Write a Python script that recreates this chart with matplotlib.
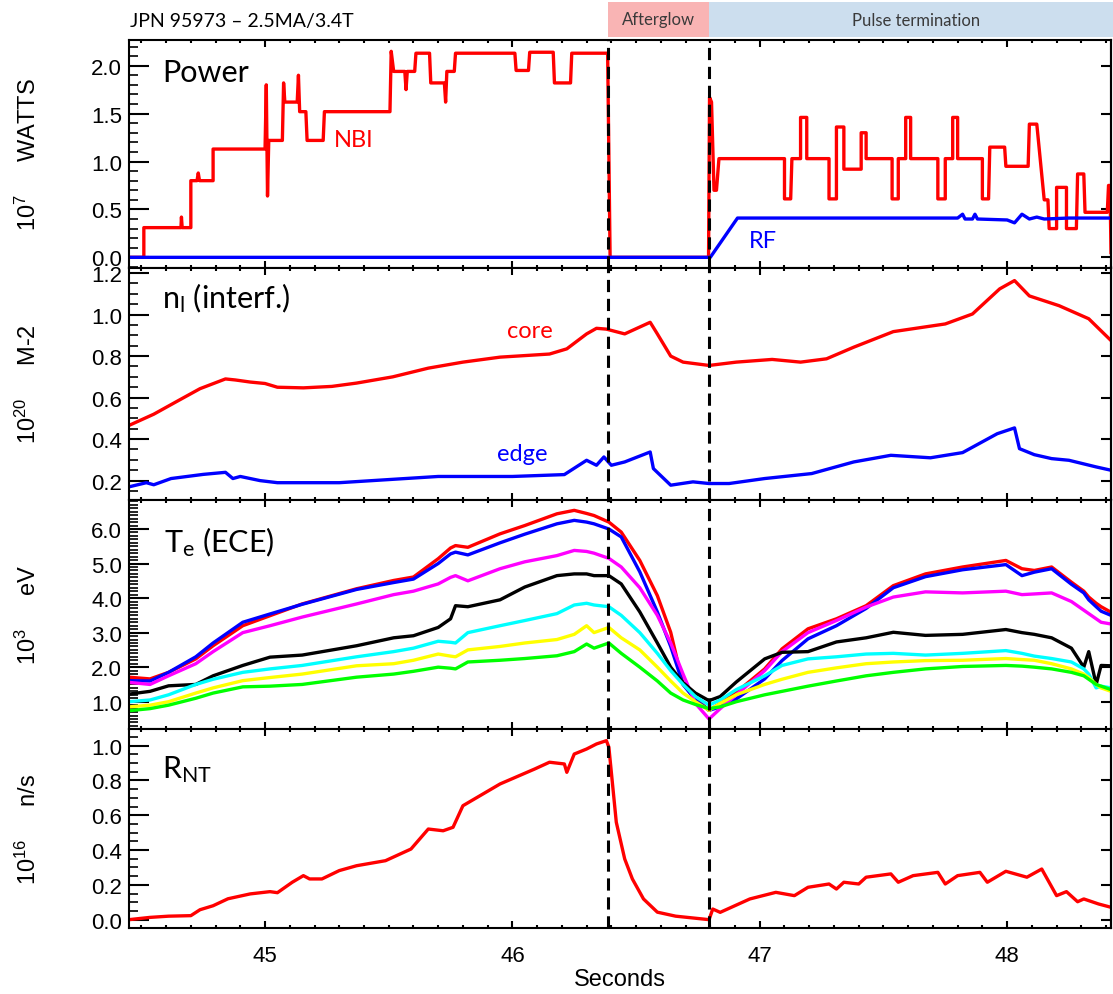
import matplotlib
matplotlib.use("Agg")
import matplotlib.pyplot as plt
import matplotlib.ticker as ticker
import matplotlib.transforms as transforms
from matplotlib.patches import Rectangle

plt.rcParams["font.family"] = ["Liberation Sans", "DejaVu Sans"]

# shot phases (s)
t_afterglow = 46.385
t_termination = 46.793
t_range = (44.45, 48.42)

# ---- heating power, 1e7 W ----
nbi_t = [44.45, 44.51, 44.51, 44.66, 44.662, 44.665, 44.70, 44.70, 44.725, 44.73, 44.735,
         44.79, 44.79, 45.00, 45.005, 45.01, 45.015, 45.07, 45.075, 45.08, 45.13, 45.135,
         45.14, 45.165, 45.17, 45.235, 45.24, 45.505, 45.51, 45.52, 45.565, 45.57, 45.575,
         45.605, 45.61, 45.665, 45.67, 45.725, 45.73, 45.735, 45.765, 45.77, 46.01, 46.015,
         46.065, 46.07, 46.165, 46.17, 46.235, 46.24, 46.385, 46.395, 46.793, 46.797,
         46.805, 46.815, 46.825, 46.835, 47.10, 47.10, 47.125, 47.13, 47.165, 47.165,
         47.19, 47.19, 47.28, 47.28, 47.31, 47.31, 47.34, 47.34, 47.41, 47.41, 47.43,
         47.43, 47.535, 47.535, 47.56, 47.56, 47.59, 47.59, 47.61, 47.61, 47.72, 47.72,
         47.75, 47.75, 47.78, 47.78, 47.80, 47.80, 47.90, 47.90, 47.925, 47.93, 47.99,
         47.995, 48.085, 48.09, 48.12, 48.15, 48.165, 48.17, 48.20, 48.20, 48.24, 48.24,
         48.28, 48.285, 48.31, 48.315, 48.405, 48.41, 48.416, 48.42]
nbi_p = [0.0, 0.0, 0.31, 0.31, 0.42, 0.31, 0.31, 0.80, 0.80, 0.88, 0.80,
         0.80, 1.13, 1.13, 1.80, 0.64, 1.22, 1.22, 1.82, 1.62, 1.62, 1.90,
         1.52, 1.52, 1.22, 1.22, 1.52, 1.52, 2.15, 1.94, 1.94, 1.75, 1.94,
         1.94, 2.13, 2.13, 1.82, 1.82, 1.62, 1.94, 1.94, 2.13, 2.13, 1.95,
         1.95, 2.14, 2.14, 1.82, 1.82, 2.13, 2.13, 0.0, 0.0, 1.67,
         1.62, 0.70, 0.70, 1.03, 1.03, 0.61, 0.61, 1.03, 1.03, 1.46,
         1.46, 1.03, 1.03, 0.61, 0.61, 1.36, 1.36, 0.92, 0.92, 1.30, 1.30,
         1.03, 1.03, 0.61, 0.61, 1.03, 1.03, 1.46, 1.46, 1.03, 1.03, 0.61,
         0.61, 1.03, 1.03, 1.46, 1.46, 1.03, 1.03, 0.61, 0.61, 1.15, 1.15,
         0.95, 0.95, 1.39, 1.39, 0.60, 0.60, 0.30, 0.30, 0.73, 0.73, 0.30,
         0.30, 0.87, 0.87, 0.47, 0.47, 0.75, 0.75, 0.05]
rf_t = [44.45, 46.80, 46.91, 47.80, 47.82, 47.83, 47.86, 47.87, 47.88, 48.00, 48.03,
        48.06, 48.09, 48.12, 48.15, 48.25, 48.42]
rf_p = [0.0, 0.0, 0.41, 0.41, 0.45, 0.40, 0.40, 0.45, 0.40, 0.39, 0.36,
        0.45, 0.40, 0.42, 0.40, 0.41, 0.41]

# ---- line integrated density, 1e20 m^-2 ----
core_t = [44.45, 44.55, 44.65, 44.737, 44.84, 44.88, 44.94, 45.0, 45.05, 45.155, 45.27,
          45.37, 45.516, 45.66, 45.80, 45.95, 46.15, 46.22, 46.30, 46.34, 46.38, 46.454,
          46.557, 46.586, 46.64, 46.69, 46.795, 46.905, 47.05, 47.165, 47.27, 47.38,
          47.54, 47.75, 47.86, 47.97, 48.03, 48.09, 48.21, 48.33, 48.42]
core_n = [0.466, 0.52, 0.586, 0.643, 0.69, 0.685, 0.675, 0.668, 0.65, 0.647, 0.654,
          0.67, 0.70, 0.742, 0.771, 0.795, 0.81, 0.835, 0.907, 0.934, 0.93, 0.907,
          0.963, 0.907, 0.80, 0.771, 0.755, 0.771, 0.784, 0.771, 0.787, 0.843,
          0.918, 0.955, 1.003, 1.124, 1.164, 1.09, 1.043, 0.98, 0.875]
edge_t = [44.45, 44.52, 44.55, 44.62, 44.75, 44.84, 44.87, 44.90, 44.98, 45.05, 45.3,
          45.5, 45.7, 46.0, 46.21, 46.30, 46.34, 46.37, 46.40, 46.454, 46.557, 46.57,
          46.64, 46.73, 46.795, 46.876, 47.02, 47.21, 47.38, 47.53, 47.69, 47.82,
          47.96, 48.03, 48.05, 48.11, 48.18, 48.25, 48.36, 48.42]
edge_n = [0.17, 0.19, 0.18, 0.21, 0.23, 0.24, 0.21, 0.22, 0.20, 0.19, 0.19,
          0.205, 0.22, 0.22, 0.229, 0.298, 0.274, 0.314, 0.274, 0.29, 0.338, 0.258,
          0.178, 0.194, 0.186, 0.186, 0.21, 0.234, 0.29, 0.322, 0.31, 0.335,
          0.426, 0.454, 0.354, 0.325, 0.306, 0.298, 0.266, 0.25]

# ---- ECE electron temperature channels, keV ----
te_t = [44.45, 44.535, 44.61, 44.72, 44.79, 44.91, 45.02, 45.15, 45.37, 45.52, 45.60,
        45.70, 45.75, 45.77, 45.82, 45.95, 46.05, 46.18, 46.25, 46.30, 46.33, 46.39,
        46.44, 46.515, 46.586, 46.64, 46.69, 46.74, 46.795, 46.84, 46.905, 47.02, 47.09,
        47.195, 47.31, 47.43, 47.54, 47.67, 47.82, 47.995, 48.06, 48.11, 48.18, 48.26,
        48.31, 48.33, 48.36, 48.38, 48.42]
te_red = [1.71, 1.66, 1.85, 2.24, 2.62, 3.20, 3.49, 3.83, 4.27, 4.51, 4.61,
          5.14, 5.45, 5.52, 5.47, 5.86, 6.10, 6.44, 6.54, 6.45, 6.39, 6.20,
          5.91, 5.09, 4.07, 3.01, 1.50, 1.10, 0.75, 0.95, 1.27, 1.95, 2.53,
          3.11, 3.40, 3.78, 4.36, 4.70, 4.90, 5.09, 4.85, 4.80, 4.90, 4.46,
          4.20, 4.03, 3.85, 3.75, 3.59]
te_blue = [1.61, 1.60, 1.85, 2.30, 2.70, 3.30, 3.54, 3.82, 4.25, 4.45, 4.55,
           5.00, 5.28, 5.33, 5.25, 5.60, 5.85, 6.15, 6.25, 6.20, 6.15, 6.00,
           5.77, 4.76, 3.60, 2.60, 1.50, 1.05, 0.75, 0.85, 1.08, 1.66, 2.19,
           2.82, 3.20, 3.70, 4.30, 4.62, 4.82, 4.97, 4.65, 4.75, 4.85, 4.40,
           4.15, 3.95, 3.75, 3.62, 3.50]
te_magenta = [1.56, 1.50, 1.75, 2.10, 2.45, 3.00, 3.20, 3.45, 3.83, 4.10, 4.20,
              4.41, 4.60, 4.65, 4.50, 4.85, 5.05, 5.23, 5.38, 5.35, 5.30, 5.15,
              4.90, 4.30, 3.50, 2.70, 1.80, 0.95, 0.50, 0.80, 1.20, 1.90, 2.45,
              3.00, 3.35, 3.74, 4.03, 4.18, 4.15, 4.20, 4.10, 4.12, 4.15, 3.90,
              3.65, 3.55, 3.40, 3.30, 3.25]
te_black = [1.22, 1.30, 1.46, 1.50, 1.75, 2.05, 2.29, 2.35, 2.62, 2.85, 2.91,
            3.15, 3.40, 3.78, 3.75, 3.95, 4.32, 4.65, 4.70, 4.70, 4.65, 4.65,
            4.41, 3.60, 2.70, 2.00, 1.55, 1.25, 1.03, 1.15, 1.57, 2.24, 2.43,
            2.45, 2.73, 2.85, 3.01, 2.92, 2.95, 3.09, 3.00, 2.95, 2.85, 2.55,
            2.00, 2.45, 1.50, 2.05, 2.04]
te_cyan = [1.00, 1.05, 1.20, 1.50, 1.65, 1.85, 1.95, 2.05, 2.30, 2.45, 2.55,
           2.75, 2.72, 2.70, 3.00, 3.20, 3.35, 3.55, 3.80, 3.85, 3.80, 3.75,
           3.50, 3.00, 2.40, 1.90, 1.50, 1.15, 0.90, 1.05, 1.35, 1.75, 2.05,
           2.24, 2.30, 2.38, 2.40, 2.35, 2.40, 2.48, 2.40, 2.32, 2.25, 2.15,
           1.95, 1.80, 1.40, 1.45, 1.40]
te_yellow = [0.85, 0.90, 1.00, 1.25, 1.40, 1.61, 1.70, 1.80, 2.04, 2.10, 2.20,
             2.38, 2.32, 2.30, 2.50, 2.60, 2.70, 2.80, 2.95, 3.20, 3.00, 3.15,
             2.85, 2.50, 2.00, 1.60, 1.25, 1.00, 0.75, 0.95, 1.20, 1.50, 1.65,
             1.85, 1.98, 2.10, 2.15, 2.19, 2.20, 2.25, 2.22, 2.20, 2.10, 1.95,
             1.80, 1.70, 1.50, 1.40, 1.30]
te_green = [0.74, 0.80, 0.90, 1.10, 1.25, 1.43, 1.45, 1.50, 1.71, 1.80, 1.88,
            2.00, 1.97, 1.95, 2.15, 2.20, 2.25, 2.33, 2.45, 2.67, 2.55, 2.70,
            2.40, 2.00, 1.60, 1.25, 1.05, 0.92, 0.80, 0.85, 1.00, 1.20, 1.30,
            1.45, 1.60, 1.75, 1.85, 1.95, 2.02, 2.05, 2.03, 2.00, 1.95, 1.85,
            1.75, 1.65, 1.50, 1.45, 1.35]
te_channels = [te_red, te_blue, te_magenta, te_black, te_cyan, te_yellow, te_green]
te_colors = ["red", "blue", "magenta", "black", "cyan", "yellow", "lime"]

# ---- neutron rate, 1e16 n/s ----
rnt_t = [44.45, 44.535, 44.61, 44.70, 44.737, 44.79, 44.85, 44.94, 45.02, 45.05, 45.11,
         45.155, 45.18, 45.23, 45.30, 45.37, 45.487, 45.59, 45.66, 45.72, 45.76, 45.80,
         45.95, 46.09, 46.15, 46.21, 46.22, 46.25, 46.30, 46.34, 46.38, 46.39, 46.42,
         46.454, 46.485, 46.53, 46.586, 46.66, 46.795, 46.81, 46.84, 46.96, 47.065,
         47.14, 47.195, 47.28, 47.31, 47.34, 47.40, 47.43, 47.53, 47.56, 47.62, 47.72,
         47.75, 47.80, 47.89, 47.92, 47.995, 48.08, 48.14, 48.20, 48.24, 48.285, 48.31,
         48.37, 48.42]
rnt_r = [0.0, 0.013, 0.02, 0.023, 0.057, 0.08, 0.12, 0.148, 0.161, 0.155, 0.215,
         0.253, 0.234, 0.234, 0.282, 0.31, 0.339, 0.406, 0.521, 0.511, 0.531, 0.655,
         0.78, 0.866, 0.905, 0.895, 0.847, 0.952, 0.981, 1.01, 1.029, 0.991, 0.56,
         0.349, 0.234, 0.119, 0.043, 0.02, 0.0, 0.061, 0.042, 0.119, 0.157,
         0.138, 0.186, 0.205, 0.176, 0.215, 0.205, 0.244, 0.263, 0.215, 0.253, 0.272,
         0.205, 0.253, 0.272, 0.215, 0.278, 0.244, 0.291, 0.138, 0.161, 0.103, 0.119,
         0.09, 0.071]

W, H = 1113, 995
fig = plt.figure(figsize=(W / 100, H / 100), dpi=100)


def px_axes(top, bottom):
    return fig.add_axes([129 / W, 1 - bottom / H, 982 / W, (bottom - top) / H])


def style(ax, ylim, major, minor):
    ax.set_xlim(*t_range)
    ax.set_ylim(*ylim)
    ax.xaxis.set_major_locator(ticker.MultipleLocator(1))
    ax.xaxis.set_minor_locator(ticker.MultipleLocator(0.1))
    ax.yaxis.set_major_locator(ticker.MultipleLocator(major))
    ax.yaxis.set_minor_locator(ticker.MultipleLocator(minor))
    ax.yaxis.set_major_formatter(ticker.FormatStrFormatter("%.1f"))
    ax.tick_params(axis="x", which="both", direction="in", top=True, bottom=True,
                   labelbottom=False, width=1.5)
    ax.tick_params(axis="x", which="major", length=5, labelsize=16, pad=12)
    ax.tick_params(axis="x", which="minor", length=2.5)
    ax.tick_params(axis="y", which="both", direction="in", left=True, right=False, width=1.5)
    ax.tick_params(axis="y", which="major", length=14.4, labelsize=16, pad=5)
    ax.tick_params(axis="y", which="minor", length=6.5, width=1.2)
    for spine in ax.spines.values():
        spine.set_linewidth(1.5)
    sec = ax.secondary_yaxis("right")
    sec.yaxis.set_major_locator(ticker.MultipleLocator(major))
    sec.yaxis.set_minor_locator(ticker.NullLocator())
    sec.tick_params(direction="in", length=7, width=1.5, labelright=False)
    sec.spines["right"].set_linewidth(1.5)
    for t in (t_afterglow, t_termination):
        ax.axvline(t, color="black", lw=2.2, dashes=(4, 2.2), zorder=5)


ax1 = px_axes(40.7, 268.5)
ax2 = px_axes(268.5, 500.5)
ax3 = px_axes(500.5, 730)
ax4 = px_axes(730, 929)

lw = 2.4
ax1.plot(nbi_t, nbi_p, color="red", lw=lw)
ax1.plot(rf_t, rf_p, color="blue", lw=lw)
style(ax1, (-0.106, 2.271), 0.5, 0.1)

ax2.plot(core_t, core_n, color="red", lw=lw)
ax2.plot(edge_t, edge_n, color="blue", lw=lw)
style(ax2, (0.109, 1.227), 0.2, 0.05)

for values, color in zip(te_channels, te_colors):
    ax3.plot(te_t, values, color=color, lw=lw)
style(ax3, (0.21, 6.854), 1.0, 0.1)

ax4.plot(rnt_t, rnt_r, color="red", lw=lw)
style(ax4, (-0.048, 1.096), 0.2, 0.05)
ax4.tick_params(axis="x", labelbottom=True)
ax4.set_xlabel("Seconds", fontsize=17, labelpad=2)

# panel titles and curve labels
big = dict(fontfamily="Lato", fontsize=22, color="black", va="baseline", ha="left")
ax1.text(44.585, 1.84, "Power", **big)
ax2.text(44.585, 1.036, r"n$\mathregular{_{l}}$ (interf.)", **big)
ax3.text(44.591, 5.37, r"T$\mathregular{_{e}}$ (ECE)", **big)
ax4.text(44.585, 0.818, r"R$\mathregular{_{NT}}$", **big)

small = dict(fontfamily="Lato", fontsize=17, va="baseline", ha="left")
ax1.text(45.278, 1.165, "NBI", color="red", **small)
ax1.text(46.955, 0.104, "RF", color="blue", **small)
ax2.text(45.98, 0.891, "core", color="red", **small)
ax2.text(45.937, 0.301, "edge", color="blue", **small)

# y axis titles
ylabels = [("10$\\mathregular{^{7}}$     WATTS", 154.6),
           ("10$\\mathregular{^{20}}$     M-2", 384.5),
           ("10$\\mathregular{^{3}}$     eV", 615.3),
           ("10$\\mathregular{^{16}}$     n/s", 829.5)]
for label, yc in ylabels:
    fig.text(28 / W, 1 - yc / H, label, rotation=90, ha="center", va="center", fontsize=17)

# header with phase boxes
header = transforms.blended_transform_factory(ax1.transData, fig.transFigure)
y0, y1 = 1 - 38 / H, 1 - 3 / H
fig.patches.append(Rectangle((t_afterglow, y0), t_termination - t_afterglow, y1 - y0,
                             transform=header, facecolor="#f9b4b4", edgecolor="none"))
fig.patches.append(Rectangle((t_termination, y0), 49.0 - t_termination, y1 - y0,
                             transform=header, facecolor="#ccdeee", edgecolor="none"))
fig.text((t_afterglow + t_termination) / 2, (y0 + y1) / 2, "Afterglow", transform=header,
         ha="center", va="center", fontfamily="Lato", fontsize=12, color="#3a3a3a")
fig.text(916 / W, (y0 + y1) / 2, "Pulse termination", ha="center", va="center",
         fontfamily="Lato", fontsize=12, color="#3a3a3a")
fig.text(130 / W, 1 - 22 / H, "JPN 95973 \u2013 2.5MA/3.4T", ha="left", va="center",
         fontfamily="Lato", fontsize=14, color="black")

fig.savefig("out.png", dpi=100)
